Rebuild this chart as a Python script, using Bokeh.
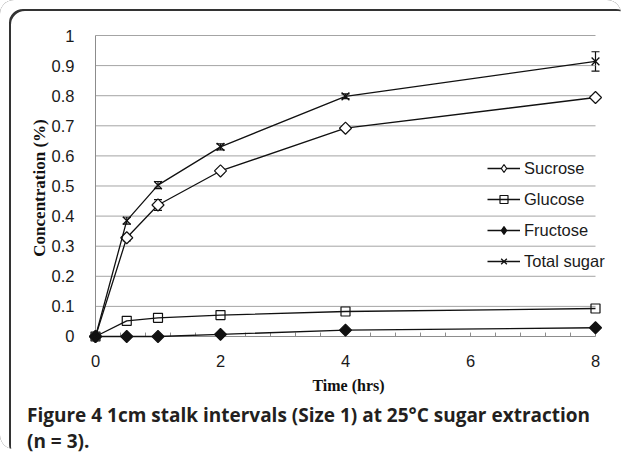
import math
from bokeh.plotting import figure
from bokeh.layouts import column
from bokeh.models import (Range1d, FixedTicker, Legend, LegendItem, Div,
                          Whisker, ColumnDataSource, TeeHead)
from bokeh.embed import file_html
from bokeh.resources import INLINE

# ---- data ----
time_hrs = [0, 0.5, 1, 2, 4, 8]
sucrose = [0, 0.328, 0.437, 0.550, 0.692, 0.794]
sucrose_err = [0, 0.010, 0.018, 0.006, 0.006, 0.006]
glucose = [0, 0.052, 0.062, 0.071, 0.083, 0.093]
fructose = [0, 0, 0, 0.007, 0.021, 0.029]
total_sugar = [0, 0.385, 0.503, 0.630, 0.798, 0.914]
total_err = [0, 0.012, 0.012, 0.010, 0.008, 0.032]

x_ticks = [0, 2, 4, 6, 8]
x_minor = [0.4, 0.8, 1.2, 1.6, 2.4, 2.8, 3.2, 3.6, 4.4, 4.8, 5.2, 5.6, 6.4, 6.8, 7.2, 7.6]
y_ticks = [0, 0.1, 0.2, 0.3, 0.4, 0.5, 0.6, 0.7, 0.8, 0.9, 1]
y_tick_labels = ["0", "0.1", "0.2", "0.3", "0.4", "0.5", "0.6", "0.7", "0.8", "0.9", "1"]

caption_bold = "Figure 4"
caption_rest = "1cm stalk intervals (Size 1) at 25°C sugar extraction"
caption_line2 = "(n = 3)."

INK = "#111111"
GRID = "#a4a4a4"
AXIS = "#8c8c8c"
TICK_LEN = 0.013  # inward tick length in y data units (~4 px)

p = figure(width=611, height=399, output_backend="svg", toolbar_location=None,
           x_range=Range1d(-0.16, 8.256), y_range=Range1d(-0.0233, 1.01),
           min_border_left=85, min_border_right=0, min_border_top=32, min_border_bottom=56)
p.grid.visible = False
p.outline_line_color = None
p.background_fill_color = "white"
p.border_fill_color = None

# gridlines from 0 to 8
gy = [v for v in y_ticks if v > 0]
p.segment(x0=[x_ticks[0]] * len(gy), x1=[x_ticks[-1]] * len(gy), y0=gy, y1=gy,
          line_color=GRID, line_width=1)
# axis lines
p.segment(x0=[x_ticks[0], x_ticks[0]], y0=[y_ticks[0], y_ticks[0]],
          x1=[x_ticks[-1], x_ticks[0]], y1=[y_ticks[0], y_ticks[-1]],
          line_color=AXIS, line_width=1)
# inward tick marks on the time axis
tx = [t for t in x_ticks if t > 0] + x_minor
p.segment(x0=tx, x1=tx, y0=[0] * len(tx), y1=[TICK_LEN] * len(tx),
          line_color=AXIS, line_width=1)

# axes (labels only)
xa = p.xaxis[0]
xa.bounds = (x_ticks[0], x_ticks[-1])
xa.ticker = FixedTicker(ticks=x_ticks)
xa.axis_line_color = None
xa.major_tick_line_color = None
xa.minor_tick_line_color = None
xa.major_label_standoff = 5
xa.major_label_text_font = "Liberation Sans"
xa.major_label_text_font_size = "16.5px"
xa.major_label_text_color = "#1a1a1a"
xa.axis_label = "Time (hrs)"
xa.axis_label_text_font = "Liberation Serif"
xa.axis_label_text_font_style = "bold"
xa.axis_label_text_font_size = "16px"
xa.axis_label_text_color = "#111111"
xa.axis_label_standoff = 7

ya = p.yaxis[0]
ya.bounds = (y_ticks[0], y_ticks[-1])
ya.ticker = FixedTicker(ticks=y_ticks)
ya.major_label_overrides = dict(zip(y_ticks, y_tick_labels))
ya.axis_line_color = None
ya.major_tick_line_color = None
ya.minor_tick_line_color = None
ya.major_label_standoff = 5
ya.major_label_text_font = "Liberation Sans"
ya.major_label_text_font_size = "16.5px"
ya.major_label_text_color = "#1a1a1a"
ya.axis_label = "Concentration (%)"
ya.axis_label_text_font = "Liberation Serif"
ya.axis_label_text_font_style = "bold"
ya.axis_label_text_font_size = "17px"
ya.axis_label_text_color = "#111111"
ya.axis_label_standoff = 0

# error bars
def whisker_source(vals, errs):
    idx = [i for i, e in enumerate(errs) if e > 0]
    return ColumnDataSource(dict(
        x=[time_hrs[i] for i in idx],
        upper=[vals[i] + errs[i] for i in idx],
        lower=[vals[i] - errs[i] for i in idx]))

for vals, errs in [(sucrose, sucrose_err), (total_sugar, total_err)]:
    w = Whisker(source=whisker_source(vals, errs), base="x", upper="upper", lower="lower",
                line_color=INK, line_width=1.2,
                upper_head=TeeHead(size=8, line_color=INK, line_width=1.2),
                lower_head=TeeHead(size=8, line_color=INK, line_width=1.2))
    p.add_layout(w)

nan_src = lambda: ColumnDataSource(dict(x=[float("nan")], y=[float("nan")]))
items = []
# Sucrose
l1 = p.line(time_hrs, sucrose, line_color=INK, line_width=1.3)
p.scatter(time_hrs, sucrose, marker="square", angle=math.pi / 4, size=8.5,
          fill_color="white", line_color=INK, line_width=1.2)
k1 = p.scatter(x="x", y="y", source=nan_src(), marker="diamond", size=12,
               fill_color="white", line_color=INK, line_width=1.2)
items.append(LegendItem(label="Sucrose", renderers=[l1, k1]))
# Glucose
l2 = p.line(time_hrs, glucose, line_color=INK, line_width=1.3)
m2 = p.scatter(time_hrs, glucose, marker="square", size=9,
               fill_alpha=0, line_color=INK, line_width=1.2)
items.append(LegendItem(label="Glucose", renderers=[l2, m2]))
# Fructose
l3 = p.line(time_hrs, fructose, line_color=INK, line_width=1.3)
p.scatter(time_hrs, fructose, marker="square", angle=math.pi / 4, size=8.5,
          fill_color=INK, line_color=INK, line_width=1.2)
k3 = p.scatter(x="x", y="y", source=nan_src(), marker="diamond", size=12,
               fill_color=INK, line_color=INK, line_width=1.2)
items.append(LegendItem(label="Fructose", renderers=[l3, k3]))
# Total sugar
l4 = p.line(time_hrs, total_sugar, line_color=INK, line_width=1.3)
m4 = p.scatter(time_hrs, total_sugar, marker="x", size=11,
               line_color=INK, line_width=1.3)
items.append(LegendItem(label="Total sugar", renderers=[l4, m4]))

legend = Legend(items=items, location=(402, 72), background_fill_alpha=0,
                border_line_color=None, padding=0, margin=0, spacing=11,
                glyph_width=33, glyph_height=20, label_height=20, label_standoff=4,
                label_text_font="Liberation Sans", label_text_font_size="16.5px",
                label_text_color="#1a1a1a")
p.add_layout(legend)

# caption
cap = Div(width=611, height=40, text=(
    '<div style="font-family:\'Open Sans\'; font-weight:700; font-size:19px; '
    'line-height:26px; color:#231f20; padding:0 0 0 22px; margin-top:-2px; '
    'white-space:nowrap;">'
    f'{caption_bold} {caption_rest}<br>{caption_line2}</div>'))

layout = column(p, cap, spacing=0, styles={
    "border-radius": "14px",
    "box-shadow": "inset 9px 9px 0 0 #ffffff, inset 11px 11px 0 0 #333333",
})

open("out.html", "w").write(file_html(layout, INLINE))
